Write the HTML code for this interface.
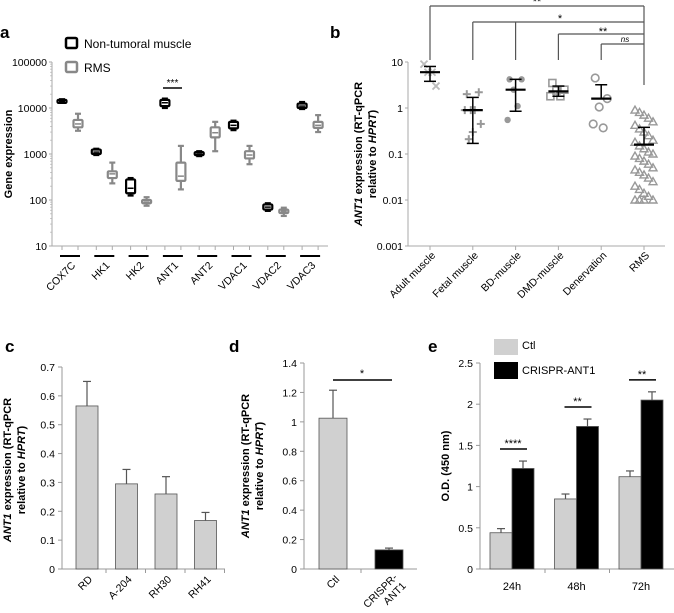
<!DOCTYPE html>
<html><head><meta charset="utf-8"><style>
body{margin:0;background:#fff}
svg{display:block;font-family:"Liberation Sans",sans-serif}
</style></head><body>
<svg id="fig" width="674" height="613" viewBox="0 0 674 613" xmlns="http://www.w3.org/2000/svg"></svg>
<script>
// ---- Panel a data ----
const aGenes=["COX7C","HK1","HK2","ANT1","ANT2","VDAC1","VDAC2","VDAC3"];
const aBlackMed=[14000,1100,180,13000,1000,4200,70,11000];
const aBlackQ1=[13500,1000,140,11000,950,3600,62,10000];
const aBlackQ3=[15000,1250,280,15000,1100,5000,80,12500];
const aBlackMin=[13000,950,125,10000,900,3300,58,9500];
const aBlackMax=[15500,1300,300,16000,1150,5300,85,13500];
const aGrayMed=[4500,370,90,330,2900,950,57,4200];
const aGrayQ1=[3800,300,85,260,2300,800,52,3700];
const aGrayQ3=[5500,420,100,650,3800,1150,62,5000];
const aGrayMin=[3200,230,75,170,1150,600,45,3000];
const aGrayMax=[7500,650,115,1500,5000,1500,68,7000];
const aTicks=[10,100,1000,10000,100000];
// ---- Panel b data ----
const bCats=["Adult muscle","Fetal muscle","BD-muscle","DMD-muscle","Denervation","RMS"];
const bMean=[6,0.9,2.5,2.3,1.6,0.16];
const bSdLo=[3.8,0.17,0.85,1.8,null,null];
const bSdHi=[8,1.7,4.2,3,3.2,0.38];
const bPoints=[[9,3,6,6],[2,2.2,0.9,0.9,0.9,0.45,0.3,0.21],[4.2,4.2,2.5,1.1,0.55],[3.5,2.5,2.4,1.8,1.8],[4.5,1.6,1.05,0.37,0.45],
[0.9,0.8,0.7,0.6,0.5,0.42,0.35,0.3,0.25,0.2,0.18,0.15,0.13,0.11,0.1,0.09,0.08,0.07,0.06,0.05,0.045,0.04,0.035,0.03,0.025,0.02,0.017,0.014,0.012,0.01,0.01,0.01,0.01]];
const bTicks=[0.001,0.01,0.1,1,10];
const bTickLbl=["0.001","0.01","0.1","1","10"];
// ---- Panel c data ----
const cCats=["RD","A-204","RH30","RH41"];
const cVals=[0.565,0.295,0.26,0.168];
const cErr=[0.085,0.05,0.06,0.028];
const cTicks=[0,0.1,0.2,0.3,0.4,0.5,0.6,0.7];
// ---- Panel d data ----
const dCats=["Ctl","CRISPR-ANT1"];
const dVals=[1.025,0.13];
const dErr=[0.19,0.012];
const dTicks=[0,0.2,0.4,0.6,0.8,1,1.2,1.4];
// ---- Panel e data ----
const eCats=["24h","48h","72h"];
const eCtl=[0.44,0.85,1.12];
const eCtlErr=[0.05,0.06,0.07];
const eCr=[1.22,1.73,2.05];
const eCrErr=[0.09,0.09,0.1];
const eSig=["****","**","**"];
const eTicks=[0,0.5,1,1.5,2,2.5];

const NS="http://www.w3.org/2000/svg";
const svg=document.getElementById('fig');
function el(tag,attrs,parent){const e=document.createElementNS(NS,tag);for(const k in attrs)e.setAttribute(k,attrs[k]);(parent||svg).appendChild(e);return e;}
function txt(s,attrs,parent){const e=el('text',attrs,parent);e.textContent=s;return e;}
function line(x1,y1,x2,y2,stroke,w,parent){return el('line',{x1,y1,x2,y2,stroke,'stroke-width':w},parent);}

// ===== Panel a =====
const ga=el('g',{});


const aY=v=>246-(Math.log10(v)-1)*46;
const aXb=i=>62+34.3*i;
txt('a',{x:0,y:38,'font-size':17,'font-weight':'bold'},ga);
line(52,62,52,246,'#aaa',1,ga);
line(52,246,328,246,'#aaa',1,ga);
aTicks.forEach(t=>{line(49,aY(t),52,aY(t),'#aaa',1,ga);
 const tl=txt(String(t),{x:47,y:aY(t)+4,'font-size':10.5,'text-anchor':'end'},ga);
 
 for(let k=2;k<10&&t<100000;k++){line(50,aY(t*k),52,aY(t*k),'#aaa',0.6,ga);} });
const at=txt('Gene expression',{transform:'translate(12,154) rotate(-90)','font-size':11,'font-weight':'bold','text-anchor':'middle'},ga);

function boxp(x,q1,q3,med,mn,mx,col,name){
 const g=el('g',{},ga);
 
 line(x,aY(mx),x,aY(mn),col,2.2,g);
 line(x-3,aY(mx),x+3,aY(mx),col,2.2,g);
 line(x-3,aY(mn),x+3,aY(mn),col,2.2,g);
 const h=Math.max(aY(q1)-aY(q3),3);
 el('rect',{x:x-4.5,y:aY(q3),width:9,height:h,fill:'#fff',stroke:col,'stroke-width':2.2,rx:1},g);
 line(x-3,aY(med),x+3,aY(med),col,1.5,g);
}
aGenes.forEach((gname,i)=>{
 const xb=aXb(i),xg=xb+16;
 line(xb,246,xb,250,'#aaa',1,ga);line(xg,246,xg,250,'#aaa',1,ga);
 boxp(xb,aBlackQ1[i],aBlackQ3[i],aBlackMed[i],aBlackMin[i],aBlackMax[i],'#000','box-nontumoral-'+gname);
 boxp(xg,aGrayQ1[i],aGrayQ3[i],aGrayMed[i],aGrayMin[i],aGrayMax[i],'#888','box-rms-'+gname);
 line(xb-2,256,xg+2,256,'#000',2,ga);
 const lb=txt(gname,{transform:`translate(${xb+14},266) rotate(-45)`,'font-size':10.5,'text-anchor':'end'},ga);
 
});
line(163,88,182,88,'#000',1.5,ga);
txt('***',{x:172.5,y:86,'font-size':10,'text-anchor':'middle'},ga);
el('rect',{x:66,y:38,width:11,height:10,fill:'#fff',stroke:'#000','stroke-width':2.5,rx:1.5},ga);
txt('Non-tumoral muscle',{x:84,y:48,'font-size':12},ga);
el('rect',{x:66,y:62,width:11,height:10,fill:'#fff',stroke:'#888','stroke-width':2.5,rx:1.5},ga);
txt('RMS',{x:84,y:72,'font-size':12},ga);

// ===== Panel b =====
const gb=el('g',{});


const bY=v=>246-(Math.log10(v)+3)*46;
const bX=i=>430+42.8*i;
txt('b',{x:330,y:38,'font-size':17,'font-weight':'bold'},gb);
line(408,62,408,246,'#aaa',1,gb);
line(408,246,665,246,'#aaa',1,gb);
bTicks.forEach((t,k)=>{line(405,bY(t),408,bY(t),'#aaa',1,gb);
 const tl=txt(bTickLbl[k],{x:403,y:bY(t)+4,'font-size':10.5,'text-anchor':'end'},gb);
 });
const bt=el('text',{transform:'translate(362,154) rotate(-90)','font-size':11,'font-weight':'bold','text-anchor':'middle'},gb);

bt.innerHTML='<tspan font-style="italic">ANT1</tspan> expression (RT-qPCR';
const bt2=el('text',{transform:'translate(376,154) rotate(-90)','font-size':11,'font-weight':'bold','text-anchor':'middle'},gb);

bt2.innerHTML='relative to <tspan font-style="italic">HPRT</tspan>)';
const jit=[-6,6,-2,2,-8,8,0,-4,4];
function marker(kind,x,y,g){
 const c='#999';
 if(kind===0){line(x-3.5,y-3.5,x+3.5,y+3.5,'#bbb',1.8,g);line(x-3.5,y+3.5,x+3.5,y-3.5,'#bbb',1.8,g);}
 else if(kind===1){line(x-4,y,x+4,y,c,2,g);line(x,y-4,x,y+4,c,2,g);}
 else if(kind===2){el('circle',{cx:x,cy:y,r:3.2,fill:c},g);}
 else if(kind===3){el('rect',{x:x-3.5,y:y-3.5,width:7,height:7,fill:'none',stroke:c,'stroke-width':1.6},g);}
 else if(kind===4){el('circle',{cx:x,cy:y,r:3.8,fill:'none',stroke:c,'stroke-width':1.6},g);}
 else {el('polygon',{points:`${x},${y-4} ${x-4},${y+3} ${x+4},${y+3}`,fill:'none',stroke:c,'stroke-width':1.4},g);}
}
bCats.forEach((cname,i)=>{
 const x=bX(i);
 const g=el('g',{},gb);
 
 line(x,246,x,250,'#aaa',1,gb);
 bPoints[i].forEach((v,j)=>{
  const off=i===5?((j%5)-2)*4.5:jit[j%jit.length];
  marker(i,x+off,bY(v),g);});
 line(x-10,bY(bMean[i]),x+10,bY(bMean[i]),'#000',2.2,g);
 const lo=bSdLo[i]===null?bMean[i]:bSdLo[i];
 line(x,bY(bSdHi[i]),x,bY(lo),'#000',1.5,g);
 line(x-6,bY(bSdHi[i]),x+6,bY(bSdHi[i]),'#000',1.5,g);
 if(bSdLo[i]!==null)line(x-6,bY(lo),x+6,bY(lo),'#000',1.5,g);
 const lb=txt(cname,{transform:`translate(${x+6},256) rotate(-45)`,'font-size':10.5,'text-anchor':'end'},gb);
 
});
const bk=el('g',{},gb);

const xr=bX(5);
line(bX(0),6,xr,6,'#555',1.2,bk);line(bX(0),6,bX(0),60,'#555',1.2,bk);
line(bX(1),22,xr,22,'#555',1.2,bk);line(bX(1),22,bX(1),60,'#555',1.2,bk);line(bX(2),22,bX(2),60,'#555',1.2,bk);
line(bX(3),34,xr,34,'#555',1.2,bk);line(bX(3),34,bX(3),60,'#555',1.2,bk);
line(bX(4),44,xr,44,'#555',1.2,bk);line(bX(4),44,bX(4),60,'#555',1.2,bk);
line(xr,6,xr,85,'#555',1.2,bk);
txt('**',{x:537,y:5,'font-size':11,'text-anchor':'middle'},bk);
txt('*',{x:560,y:22,'font-size':11,'text-anchor':'middle'},bk);
txt('**',{x:603,y:35,'font-size':11,'text-anchor':'middle'},bk);
txt('ns',{x:625,y:42,'font-size':8,'font-style':'italic','text-anchor':'middle'},bk);

// ===== bar helper =====
const YB=569;
function barPanel(name,x0,x1,yTop,yBot,maxV,ticks,fmt){
 const g=el('g',{});
 
 
 const Y=v=>yBot-(v/maxV)*(yBot-yTop);
 line(x0,yTop,x0,yBot,'#999',1,g);line(x0,yBot,x1,yBot,'#999',1,g);
 ticks.forEach(t=>{line(x0-4,Y(t),x0,Y(t),'#999',1,g);
  const tl=txt(fmt(t),{x:x0-7,y:Y(t)+4,'font-size':10.5,'text-anchor':'end'},g);
  });
 return {g,Y};
}
function bar(g,x,w,y0,y1,fill,nm){const r=el('rect',{x,y:y1,width:w,height:y0-y1,fill,stroke:'#555','stroke-width':0.8},g);return r;}
function err(g,x,yv,ye){line(x,yv,x,ye,'#555',1.2,g);line(x-4,ye,x+4,ye,'#555',1.2,g);}
function ylab2(g,x,y,l1html,l2html,nm){
 const t=el('text',{transform:`translate(${x},${y}) rotate(-90)`,'font-size':11,'font-weight':'bold','text-anchor':'middle'},g);t.innerHTML=l1html;
 const t2=el('text',{transform:`translate(${x+14},${y}) rotate(-90)`,'font-size':11,'font-weight':'bold','text-anchor':'middle'},g);t2.innerHTML=l2html;
}

// ===== Panel c =====
const pc=barPanel('panel-c',62,225,367,YB,0.7,cTicks,t=>t===0?'0':String(Math.round(t*10)/10));
txt('c',{x:5,y:352,'font-size':17,'font-weight':'bold'},pc.g);
ylab2(pc.g,11,470,'<tspan font-style="italic">ANT1</tspan> expression (RT-qPCR','relative to <tspan font-style="italic">HPRT</tspan>)','c-y-axis-title');
cCats.forEach((c,i)=>{
 const x=76+39.5*i;
 err(pc.g,x+11,pc.Y(cVals[i]),pc.Y(cVals[i]+cErr[i]));
 bar(pc.g,x,22,YB,pc.Y(cVals[i]),'#d0d0d0','bar-'+c);
 line(x+30,YB,x+30,YB+4,'#999',1,pc.g);
 const lb=txt(c,{transform:`translate(${x+17},580) rotate(-45)`,'font-size':10.5,'text-anchor':'end'},pc.g);
 
});

// ===== Panel d =====
const pd=barPanel('panel-d',304,417,363,YB,1.4,dTicks,t=>t===0?'0':String(Math.round(t*10)/10));
txt('d',{x:229,y:352,'font-size':17,'font-weight':'bold'},pd.g);
ylab2(pd.g,249,466,'<tspan font-style="italic">ANT1</tspan> expression (RT-qPCR','relative to <tspan font-style="italic">HPRT</tspan>)','d-y-axis-title');
const dFill=['#d0d0d0','#000'];
dCats.forEach((c,i)=>{
 const x=319+56*i;
 err(pd.g,x+14,pd.Y(dVals[i]),pd.Y(dVals[i]+dErr[i]));
 bar(pd.g,x,28,YB,pd.Y(dVals[i]),dFill[i],'bar-'+c);
});
line(361,YB,361,YB+4,'#999',1,pd.g);
txt('Ctl',{transform:'translate(340,580) rotate(-45)','font-size':10.5,'text-anchor':'end'},pd.g);
const dl=el('text',{transform:'translate(398,578) rotate(-45)','font-size':10.5,'text-anchor':'end'},pd.g);

dl.innerHTML='<tspan x="0" dy="0">CRISPR-</tspan><tspan x="0" dy="12">ANT1</tspan>';
line(333,380,392,380,'#000',1.5,pd.g);
txt('*',{x:362,y:377,'font-size':11,'text-anchor':'middle'},pd.g);

// ===== Panel e =====
const pe=barPanel('panel-e',480,674,363,YB,2.5,eTicks,t=>String(t));
txt('e',{x:428,y:352,'font-size':17,'font-weight':'bold'},pe.g);
txt('O.D. (450 nm)',{transform:'translate(449,466) rotate(-90)','font-size':11,'font-weight':'bold','text-anchor':'middle'},pe.g);
eCats.forEach((c,i)=>{
 const x=490+64.5*i;
 err(pe.g,x+11,pe.Y(eCtl[i]),pe.Y(eCtl[i]+eCtlErr[i]));
 err(pe.g,x+33,pe.Y(eCr[i]),pe.Y(eCr[i]+eCrErr[i]));
 bar(pe.g,x,22,YB,pe.Y(eCtl[i]),'#d0d0d0','bar-ctl-'+c);
 bar(pe.g,x+22,22,YB,pe.Y(eCr[i]),'#000','bar-crispr-'+c);
 if(i<2)line(x+55,YB,x+55,YB+4,'#999',1,pe.g);
 txt(c,{x:x+22,y:590,'font-size':11,'text-anchor':'middle'},pe.g);
 const ys=pe.Y(eCr[i]+eCrErr[i])-12;
 line(x+10,ys,x+37,ys,'#000',1.5,pe.g);
 txt(eSig[i],{x:x+23,y:ys-2,'font-size':11,'text-anchor':'middle'},pe.g);
});
el('rect',{x:494,y:339,width:24,height:16,fill:'#d0d0d0'},pe.g);
txt('Ctl',{x:522,y:349,'font-size':11},pe.g);
el('rect',{x:494,y:362,width:24,height:17,fill:'#000'},pe.g);
txt('CRISPR-ANT1',{x:522,y:374,'font-size':11},pe.g);
</script>
</body></html>
